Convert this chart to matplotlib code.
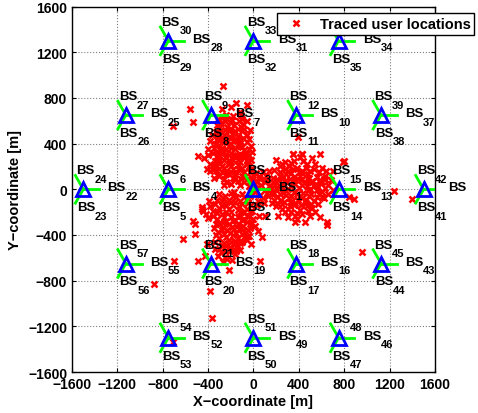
import numpy as np
import matplotlib
matplotlib.use("Agg")
import matplotlib.pyplot as plt

# site centres of the 19-site hex layout (m); sectors are 3*i+1 (0 deg), 3*i+2 (240 deg), 3*i+3 (120 deg)
site_x = [0, -750, -375, 375, 750, 375, -375,
          -1500, -1125, -750, 0, 750, 1125, 1500, 1125, 750, 0, -750, -1125]
site_y = [0, 0, 650, 650, 0, -650, -650,
          0, 650, 1300, 1300, 1300, 650, 0, -650, -1300, -1300, -1300, -650]

# traced user locations (m)
upper_cluster = [
    (-280, 700), (-200, 720), (-150, 760), (-240, 650), (-120, 680), (-180, 640), (-100, 620), (-310, 620), (-60, 740),
    (-290, 580), (-250, 600), (-210, 590), (-170, 560), (-130, 600), (-90, 570), (-230, 550), (-320, 560), (-60, 600), (-140, 530),
    (-330, 500), (-290, 520), (-260, 480), (-220, 510), (-180, 490), (-140, 470), (-100, 510), (-60, 480), (-30, 520),
    (-240, 460), (-200, 450), (-310, 460), (-120, 440), (-370, 480),
    (-380, 420), (-340, 400), (-300, 430), (-260, 410), (-220, 380), (-180, 420), (-140, 400), (-100, 370), (-60, 410),
    (-20, 380), (-280, 360), (-240, 350), (-160, 350), (-80, 340), (-350, 360), (-200, 400), (-120, 420),
    (-400, 300), (-360, 320), (-320, 290), (-280, 310), (-240, 280), (-200, 320), (-160, 290), (-120, 310), (-80, 280),
    (-40, 300), (-300, 260), (-220, 250), (-140, 260), (-60, 250), (-260, 330), (-180, 300), (-440, 270), (-10, 330),
    (-380, 220), (-340, 200), (-300, 230), (-260, 190), (-220, 220), (-180, 180), (-140, 210), (-100, 190), (-60, 220),
    (-20, 180), (-320, 160), (-240, 160), (-160, 150), (-80, 150), (-200, 240), (-120, 240), (-410, 180),
    (-300, 120), (-260, 90), (-220, 130), (-180, 100), (-140, 70), (-100, 120), (-60, 90), (-20, 110), (-240, 60),
    (-160, 130), (-200, 50), (-120, 40), (-80, 60), (-350, 100),
    (-270, 630), (-190, 610), (-110, 650), (-230, 620), (-300, 540), (-200, 530), (-110, 550), (-160, 510), (-250, 520),
    (-80, 530), (-320, 440), (-280, 450), (-160, 440), (-90, 450), (-40, 440), (-230, 420), (-300, 390), (-120, 380),
    (-200, 360), (-40, 350), (-330, 330), (-220, 300), (-100, 300), (-260, 260), (-180, 260), (-20, 260), (-120, 270),
    (-340, 250), (-60, 320), (-290, 340), (-360, 170), (-280, 200), (-200, 200), (-120, 170), (-40, 200), (-240, 130),
    (-160, 90), (-80, 110), (-280, 150), (-320, 200), (-30, 150), (-40, 60), (-200, 150), (-110, 90), (-260, 40),
]
centre_cluster = [
    (20, 140), (50, 110), (80, 150), (110, 120), (30, 60), (70, 40), (120, 80), (150, 30), (-40, 30), (10, -20),
    (60, -50), (100, -10), (130, -60), (-30, -60), (40, -100), (90, -120), (140, 160), (170, 100),
    (0, 90), (-20, -20), (60, 90), (100, 60), (120, -30), (30, -140), (-10, 40), (180, -30), (40, 20), (80, -80),
]
right_cluster = [
    (350, 310), (430, 310), (590, 310), (200, 260), (280, 240), (360, 250), (470, 220), (520, 270), (410, 280), (250, 220),
    (180, 170), (230, 150), (280, 180), (330, 140), (380, 190), (430, 160), (480, 130), (530, 180), (580, 150), (630, 120),
    (700, 160), (790, 240), (260, 110), (360, 110), (460, 190), (560, 110), (310, 200), (410, 120),
    (170, 60), (220, 80), (270, 40), (320, 90), (370, 50), (420, 80), (470, 30), (520, 70), (570, 20), (620, 90), (660, 40),
    (200, 10), (300, 0), (400, 10), (500, 0), (600, 60), (350, 70), (450, 60), (250, 90), (550, 50),
    (160, -40), (210, -70), (260, -30), (310, -80), (360, -20), (410, -60), (460, -90), (510, -40), (560, -70), (600, -20),
    (240, -90), (340, -100), (440, -30), (530, -100), (290, -50), (390, -90), (480, -10), (620, -80), (180, -90),
    (200, -150), (250, -130), (300, -170), (360, -140), (410, -180), (460, -120), (520, -160), (570, -130), (280, -200),
    (380, -210), (480, -190), (160, -120), (250, -172), (330, -120),
    (367, -231), (455, -289), (500, -231), (587, -245), (647, -289), (367, -289), (382, -260), (650, -310), (300, -240), (220, -230),
    (802, 245), (838, -70), (890, -85), (603, -70), (588, 61), (700, -10), (632, 90),
    (230, 200), (330, 230), (440, 250), (540, 220), (300, 160), (400, 150), (500, 160), (600, 190), (350, 180), (450, 120),
    (230, 120), (290, 130), (390, 90), (490, 100), (590, 80), (280, 70), (480, 60), (330, 30), (430, 40), (530, 30),
    (230, 30), (630, 10), (280, -10), (380, -40), (490, -60), (580, -40), (330, -60), (430, -80), (230, -40), (560, -10),
    (270, -110), (370, -120), (470, -150), (320, -150), (420, -140), (540, -200), (210, -120), (330, -200), (430, -220),
    (510, -130), (150, 0), (190, 40), (660, -40), (680, 80), (640, 160),
]
lower_cluster = [
    (-300, -40), (-250, -60), (-200, -30), (-150, -70), (-100, -40), (-50, -80), (-220, -90), (-120, -100), (-280, -100), (-170, -20),
    (-340, -130), (-300, -160), (-260, -120), (-220, -170), (-180, -140), (-140, -180), (-100, -130), (-60, -170), (-20, -140),
    (-240, -200), (-160, -110), (-80, -200), (-380, -150), (-456, -158), (-445, -187), (-10, -190),
    (-360, -230), (-320, -260), (-280, -220), (-240, -280), (-200, -240), (-160, -270), (-120, -230), (-80, -260), (-40, -230),
    (0, -260), (-300, -300), (-220, -300), (-140, -300), (-60, -290), (-400, -250), (14, -319), (50, -230), (102, -231),
    (-350, -340), (-310, -370), (-270, -330), (-230, -360), (-190, -330), (-150, -380), (-110, -340), (-70, -370), (-30, -340),
    (-260, -390), (-180, -400), (-100, -390), (-45, -406), (41, -363), (-330, -400), (-515, -391), (-530, -275), (-515, -304),
    (-339, -461), (-300, -430), (-260, -470), (-220, -440), (-180, -480), (-140, -430), (-100, -460), (-60, -440), (-20, -480),
    (73, -418), (-412, -479), (-619, -435), (-240, -500), (-140, -500),
    (-339, -523), (-290, -550), (-250, -593), (-210, -540), (-160, -570), (-312, -584), (-427, -581), (-489, -625),
    (-215, -704), (-120, -530), (58, -630), (-190, -620), (-270, -640),
    (-270, -80), (-180, -60), (-80, -70), (-320, -90), (-130, -150), (-200, -110), (-50, -120), (-280, -150), (-240, -140),
    (-110, -200), (-200, -200), (-30, -200), (-320, -210), (-260, -240), (-180, -280), (-100, -270), (-20, -300), (-260, -290),
    (-140, -240), (-60, -230), (-280, -360), (-210, -380), (-130, -350), (-50, -360), (-330, -300), (-170, -350), (-90, -320),
    (-240, -420), (-160, -450), (-80, -420), (-280, -490), (-200, -460), (-120, -470), (-40, -410), (-200, -510), (-250, -540),
    (-300, -520), (-180, -530), (-230, -610), (-150, -540),
    (-390, -100), (-360, -190), (-420, -220),
]
scattered = [
    (-271, 902), (-560, 700), (-530, 592), (-707, 557), (-486, 294), (-398, 353), (-383, 163), (396, 455), (426, 309),
    (352, 309), (1235, -15), (1397, -88), (961, -552), (-383, -888), (-368, -1130), (-701, -630), (-877, -829),
    (-713, -1340), (-456, -172),
]

sector_len = 140
ticks = np.arange(-1600, 1601, 400)

plt.rcParams['font.family'] = ['Liberation Sans', 'DejaVu Sans']
plt.rcParams['font.weight'] = 'bold'

fig = plt.figure(figsize=(4.78, 4.14), dpi=100)
ax = fig.add_axes([0.1506, 0.099, 0.7594, 0.8826])

users = np.array(upper_cluster + centre_cluster + right_cluster + lower_cluster + scattered)
ax.plot(users[:, 0], users[:, 1], 'x', color='red', ms=5, mew=1.8, linestyle='none',
        label='Traced user locations', zorder=2)

# sector directions and label offsets (relative to site)
angles = np.deg2rad([0, 240, 120])
label_dx = [213, -57, -60]
label_dy = [-10, -183, 139]

for i, (sx, sy) in enumerate(zip(site_x, site_y)):
    for k, a in enumerate(angles):
        ax.plot([sx, sx + sector_len * np.cos(a)], [sy, sy + sector_len * np.sin(a)],
                color=(0, 1, 0), lw=2, zorder=3)
        lx, ly = sx + label_dx[k], sy + label_dy[k]
        ax.text(lx, ly, 'BS', fontsize=9.5, fontweight='bold', ha='left', va='baseline', zorder=5)
        ax.annotate(str(3 * i + k + 1), (lx, ly), xytext=(12.9, -6), textcoords='offset points',
                    fontsize=8, fontweight='bold', ha='left', va='baseline', zorder=5)
    ax.plot(sx, sy, '^', ms=10, mfc='none', mec='blue', mew=2, zorder=4)

ax.set_xlim(-1600, 1600)
ax.set_ylim(-1600, 1600)
ax.set_xticks(ticks)
ax.set_yticks(ticks)
ax.tick_params(direction='in', top=True, right=True, length=3, labelsize=10)
for lab in ax.get_xticklabels() + ax.get_yticklabels():
    lab.set_fontweight('bold')
ax.grid(True, linestyle=':', color='0.5', lw=0.8)
for sp in ax.spines.values():
    sp.set_linewidth(1)

ax.set_xlabel('X\u2212coordinate [m]', fontsize=10.5, fontweight='bold', labelpad=2)
ax.set_ylabel('Y\u2212coordinate [m]', fontsize=10.5, fontweight='bold', labelpad=4)

leg = ax.legend(loc='upper left', bbox_to_anchor=(0.579, 0.9655), bbox_transform=fig.transFigure,
                borderaxespad=0, fancybox=False, framealpha=1, edgecolor='black', numpoints=1,
                handlelength=2.2, handletextpad=0.5, borderpad=0.25,
                prop={'weight': 'bold', 'size': 10.5})
leg.get_frame().set_linewidth(1)
leg.set_zorder(10)

fig.savefig('out.png', dpi=100)
